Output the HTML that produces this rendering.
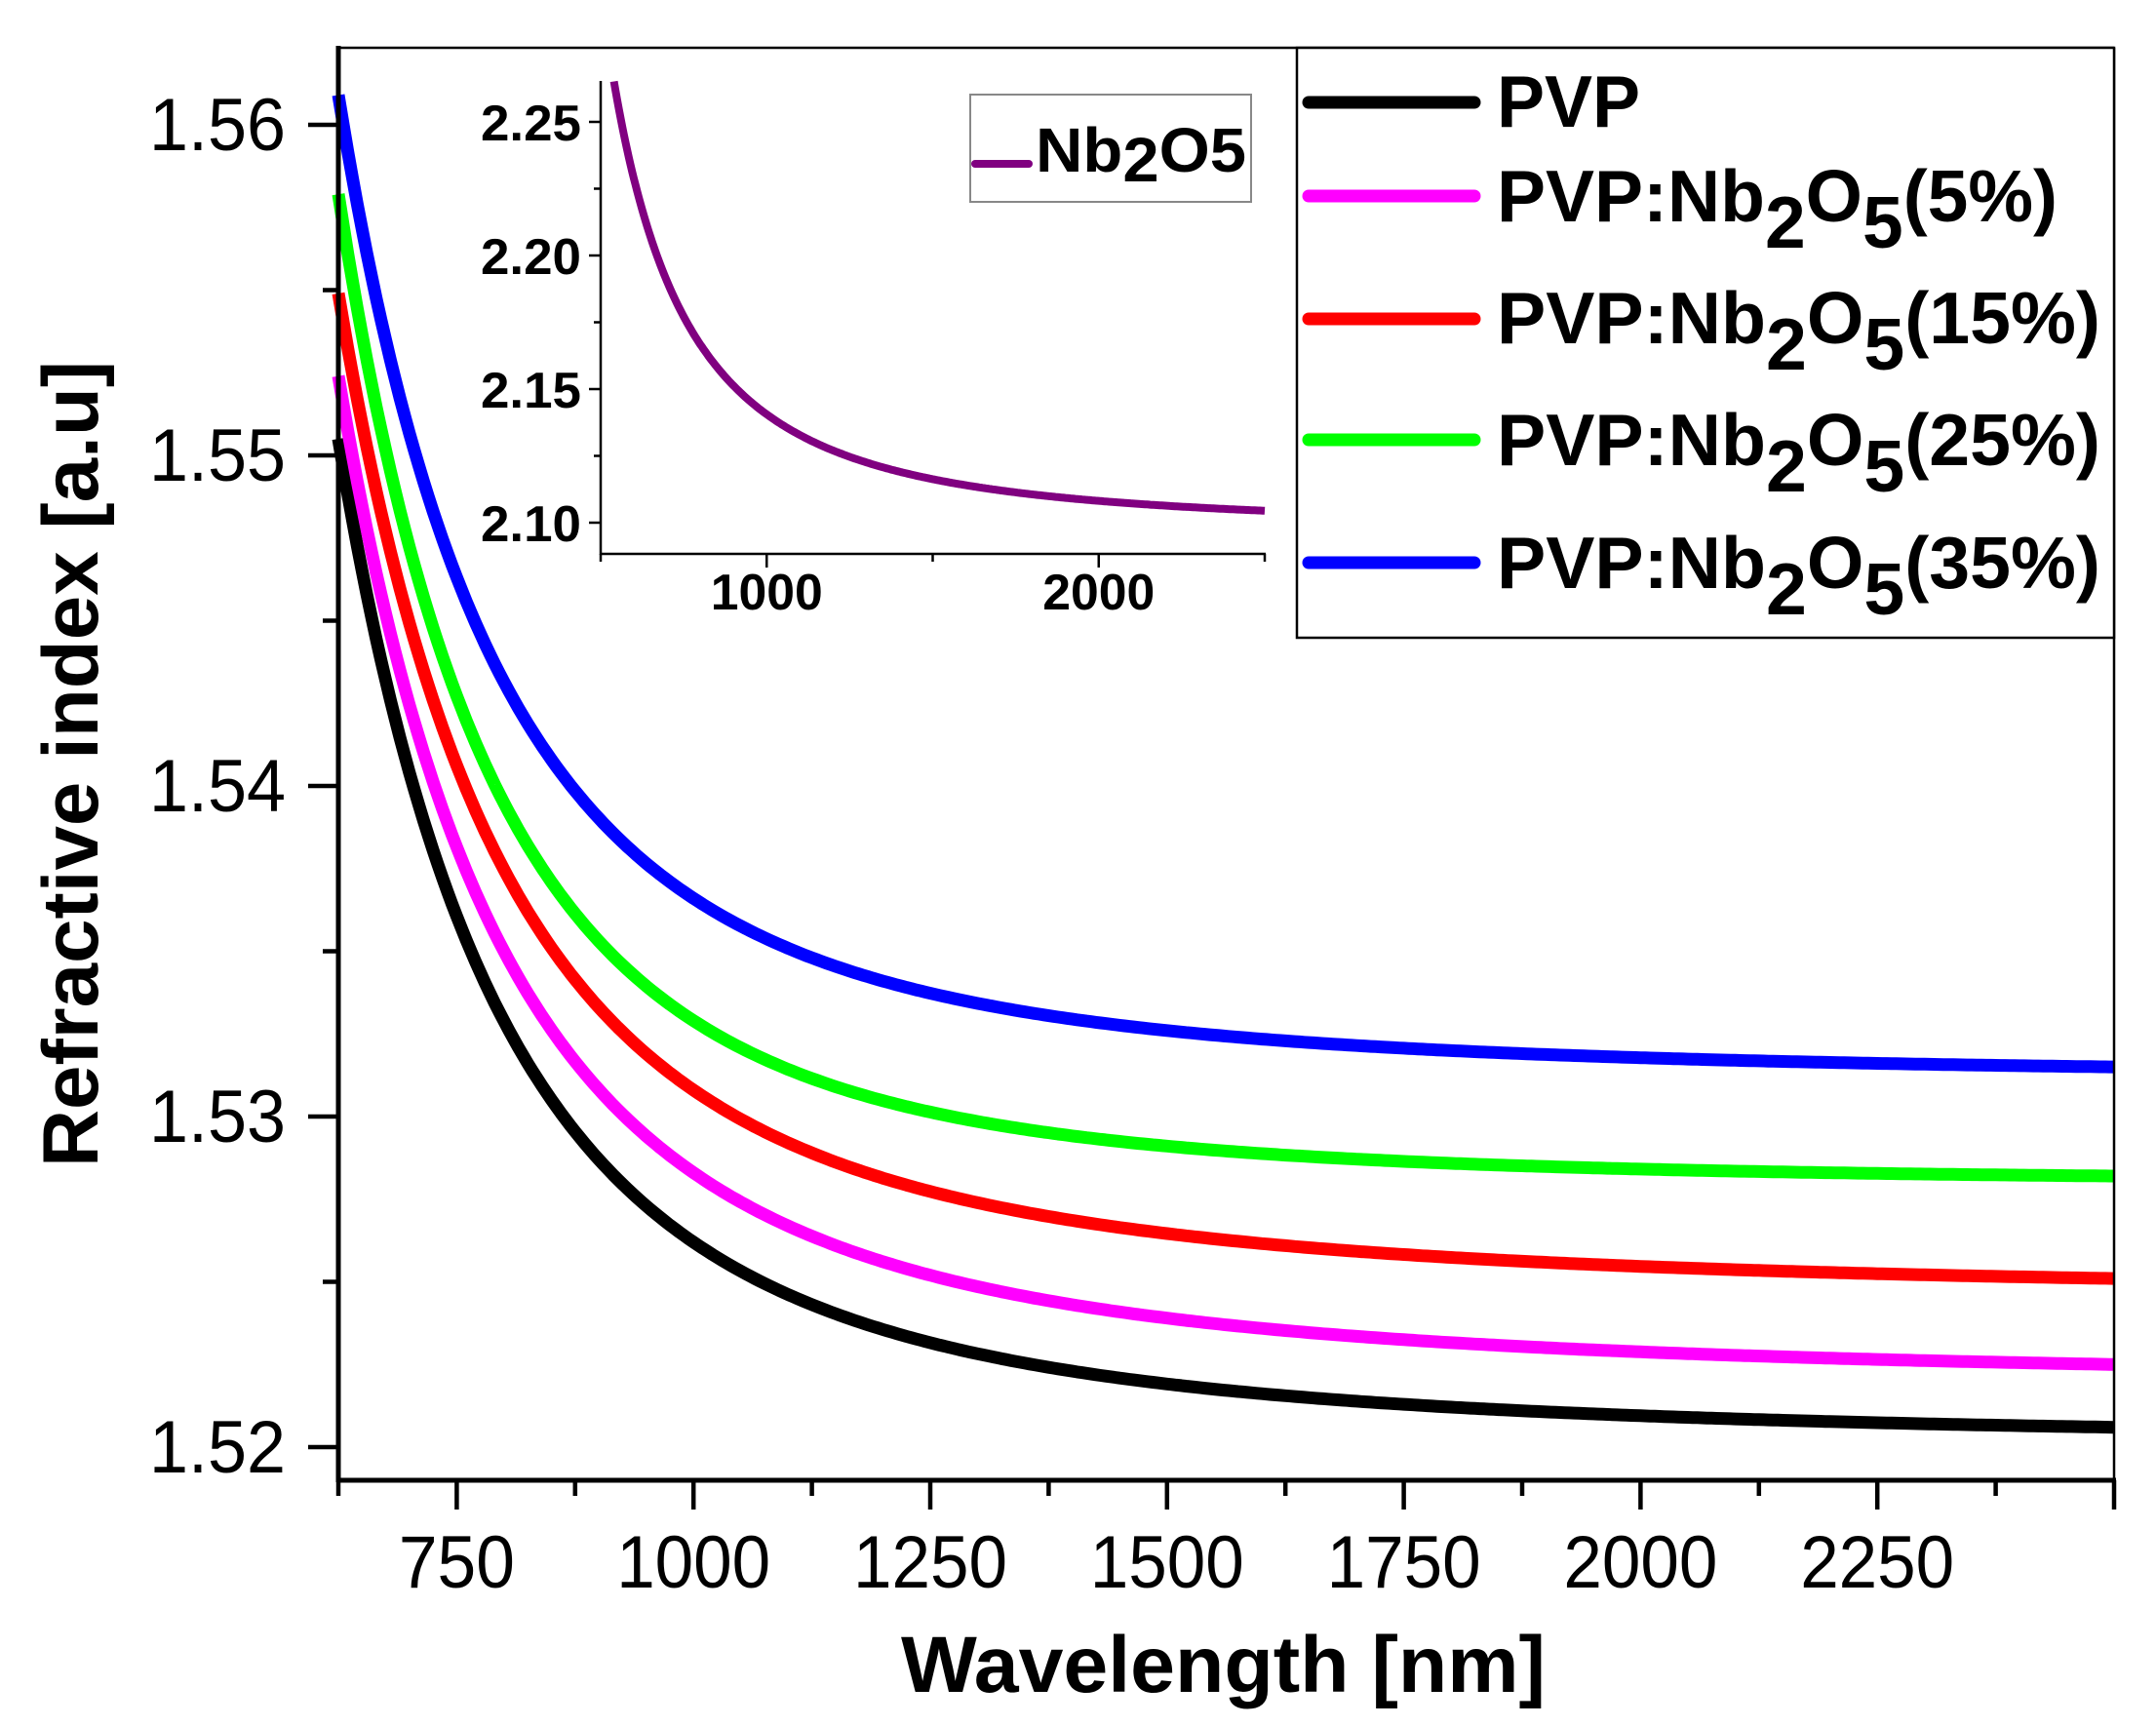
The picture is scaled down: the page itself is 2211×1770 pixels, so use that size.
<!DOCTYPE html>
<html><head><meta charset="utf-8"><style>
html,body{margin:0;padding:0;background:#fff;}
svg{display:block;}
text{font-family:"Liberation Sans",Arial,sans-serif;fill:#000;}
</style></head><body>
<svg id="s" width="2211" height="1770" viewBox="0 0 2211 1770" xmlns="http://www.w3.org/2000/svg">
<rect width="2211" height="1770" fill="#fff"/>
<g id="curves" fill="none" stroke-linejoin="round"></g>
<line x1="347" y1="49" x2="2168" y2="49" stroke="#000" stroke-width="2.5"/>
<line x1="2168" y1="49" x2="2168" y2="1518" stroke="#000" stroke-width="2.5"/>
<line x1="347" y1="47" x2="347" y2="1520" stroke="#000" stroke-width="5"/>
<line x1="345" y1="1518" x2="2170" y2="1518" stroke="#000" stroke-width="5"/>
<g id="ticks" stroke="#000" stroke-width="4.5"></g>
<g id="labels" font-size="76"></g>
<text x="0" y="0" font-size="81" font-weight="bold" transform="translate(100,1197) rotate(-90)" textLength="827" lengthAdjust="spacingAndGlyphs">Refractive index [a.u]</text>
<text x="924" y="1735" font-size="82" font-weight="bold" textLength="661" lengthAdjust="spacingAndGlyphs">Wavelength [nm]</text>

<line x1="616" y1="83" x2="616" y2="569" stroke="#000" stroke-width="2.5"/>
<line x1="615" y1="568" x2="1298" y2="568" stroke="#000" stroke-width="2.5"/>
<g id="iticks" stroke="#000" stroke-width="2.5"></g>
<g id="ilabels" font-size="52" font-weight="bold"></g>
<path id="icurve" fill="none" stroke="#800080" stroke-width="8"/>
<rect x="995" y="97" width="288" height="110" fill="#fff" stroke="#888" stroke-width="2"/>
<line x1="1000" y1="168" x2="1055" y2="168" stroke="#800080" stroke-width="8" stroke-linecap="round"/>
<text x="1062" y="176" font-size="64" font-weight="bold" textLength="216" lengthAdjust="spacingAndGlyphs">Nb<tspan dy="10">2</tspan><tspan dy="-10">O5</tspan></text>

<rect x="1330" y="49" width="838" height="605" fill="#fff" stroke="#000" stroke-width="2.5"/>
<g stroke-width="13" stroke-linecap="round">
<line x1="1342" y1="105" x2="1512" y2="105" stroke="#000"/>
<line x1="1342" y1="201" x2="1512" y2="201" stroke="#ff00ff"/>
<line x1="1342" y1="327" x2="1512" y2="327" stroke="#ff0000"/>
<line x1="1342" y1="451" x2="1512" y2="451" stroke="#00ff00"/>
<line x1="1342" y1="577" x2="1512" y2="577" stroke="#0000ff"/>
</g>
<g font-size="75" font-weight="bold">
<text x="1535" y="130" textLength="147" lengthAdjust="spacingAndGlyphs">PVP</text>
<text x="1535" y="227" textLength="575" lengthAdjust="spacingAndGlyphs">PVP:Nb<tspan dy="27">2</tspan><tspan dy="-27">O</tspan><tspan dy="27">5</tspan><tspan dy="-27">(5%)</tspan></text>
<text x="1535" y="352" textLength="619" lengthAdjust="spacingAndGlyphs">PVP:Nb<tspan dy="27">2</tspan><tspan dy="-27">O</tspan><tspan dy="27">5</tspan><tspan dy="-27">(15%)</tspan></text>
<text x="1535" y="477" textLength="619" lengthAdjust="spacingAndGlyphs">PVP:Nb<tspan dy="27">2</tspan><tspan dy="-27">O</tspan><tspan dy="27">5</tspan><tspan dy="-27">(25%)</tspan></text>
<text x="1535" y="603" textLength="619" lengthAdjust="spacingAndGlyphs">PVP:Nb<tspan dy="27">2</tspan><tspan dy="-27">O</tspan><tspan dy="27">5</tspan><tspan dy="-27">(35%)</tspan></text>
</g>
</svg>
<script>
(function(){
var NS="http://www.w3.org/2000/svg";
function el(p,t,a,txt){var e=document.createElementNS(NS,t);for(var k in a)e.setAttribute(k,a[k]);if(txt!=null)e.textContent=txt;p.appendChild(e);return e;}
function X(l){return 347+(l-625)*(2168-347)/1875;}
function Y(n){return 1484-(n-1.52)*33900;}
var series=[
 ["#000000",1.5505,1.5262,1.5206],
 ["#ff00ff",1.5524,1.5283,1.5225],
 ["#ff0000",1.5549,1.5308,1.5251],
 ["#00ff00",1.5579,1.5329,1.5282],
 ["#0000ff",1.5609,1.5366,1.5315]];
var g=document.getElementById("curves");
series.forEach(function(s){
 var n1=s[1],n2=s[2],n3=s[3];
 var C=((n1-n2)-1.56*(n2-n3)/0.84)/(6.5536-1-1.56*0.9744/0.84);
 var B=((n2-n3)-0.9744*C)/0.84;
 var A=n2-B-C;
 var d="";
 for(var l=625;l<=2500;l+=5){var u=Math.pow(1000/l,2);var n=A+B*u+C*u*u;d+=(l==625?"M":"L")+X(l).toFixed(1)+" "+Y(n).toFixed(1);}
 el(g,"path",{d:d,stroke:s[0],"stroke-width":13});
});
var t=document.getElementById("ticks"),lb=document.getElementById("labels");
for(var l=625;l<=2500;l+=125){var maj=((l-750)%250==0);el(t,"line",{x1:X(l),y1:1518,x2:X(l),y2:maj?1548:1534});
 if(maj&&l<2500){var s=String(l);el(lb,"text",{x:X(l),y:1628,"text-anchor":"middle",textLength:s.length==3?119:158,lengthAdjust:"spacingAndGlyphs"},s);}}
for(var i=0;i<=8;i++){var n=1.52+i*0.005;var maj=(i%2==0);el(t,"line",{x1:maj?316:331,y1:Y(n),x2:347,y2:Y(n)});
 if(maj)el(lb,"text",{x:293,y:Y(n)+26,"text-anchor":"end",textLength:140,lengthAdjust:"spacingAndGlyphs"},n.toFixed(2));}
function IX(l){return 616+(l-500)*0.3405;}
function IY(n){return 536-(n-2.10)*2740;}
var it=document.getElementById("iticks"),il=document.getElementById("ilabels");
for(var l=500;l<=2500;l+=500){var maj=(l%1000==0);el(it,"line",{x1:IX(l),y1:568,x2:IX(l),y2:maj?582:576});
 if(maj&&l>500&&l<2500)el(il,"text",{x:IX(l),y:625,"text-anchor":"middle",textLength:115,lengthAdjust:"spacingAndGlyphs"},String(l));}
for(var n=2.10;n<=2.2501;n+=0.025){var k=Math.round((n-2.10)/0.025);var maj=(k%2==0);el(it,"line",{x1:maj?604:609,y1:IY(n),x2:616,y2:IY(n)});
 if(maj)el(il,"text",{x:596,y:IY(n)+19,"text-anchor":"end",textLength:103,lengthAdjust:"spacingAndGlyphs"},n.toFixed(2));}
var d="";var first=true;
for(var l=530;l<=2500;l+=5){var u=Math.pow(1000/l,2);var n=2.098+0.04*u+0.00255*u*u;var y=IY(n);if(y<83)continue;d+=(first?"M":"L")+IX(l).toFixed(1)+" "+y.toFixed(1);first=false;}
document.getElementById("icurve").setAttribute("d",d);
})();
</script>
</body></html>
